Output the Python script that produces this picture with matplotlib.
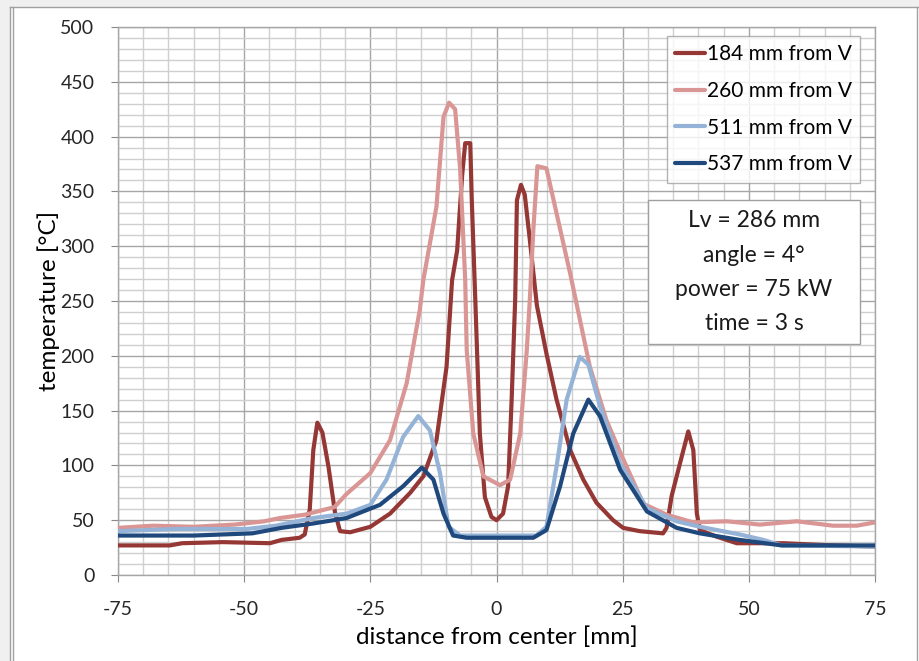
import matplotlib.pyplot as plt
from matplotlib.lines import Line2D
from matplotlib.patches import Rectangle

plt.rcParams['font.family'] = ['Lato', 'DejaVu Sans']
plt.rcParams['axes.unicode_minus'] = False

# 184 mm from V
x_184 = [-75, -64.7, -62.3, -54.2, -44.9, -42.6, -39, -38, -37, -36.3, -35.5, -34.5,
         -33.3, -32, -31, -29, -25, -21.1, -17.1, -14.5, -11.9, -9.9, -8.8, -7.8,
         -6.8, -6.2, -5.2, -4.9, -4.2, -3.3, -2.3, -1, 0, 1.3, 2.3, 3.0, 3.7, 4.05,
         4.85, 5.6, 6.6, 8.0, 9.9, 11.9, 14.6, 17.2, 19.8, 23.1, 25.1, 28.4, 33.0,
         33.7, 34.7, 36.7, 38.0, 39.0, 39.7, 40.3, 43.6, 47.6, 56.8, 66.7, 75]
y_184 = [27, 27, 29, 30, 29, 32, 34, 37, 60, 114, 139, 130,
         99, 57, 40, 39, 44, 56, 75, 90, 123, 190, 269, 296,
         365, 394, 394, 342, 251, 129, 71, 53, 50, 56, 81, 160, 251, 342,
         356, 347, 306, 246, 202, 160, 114, 87, 66, 50, 43, 40, 38,
         43, 72, 108, 131, 114, 56, 41, 35, 29, 29, 27, 26]

# 260 mm from V
x_260 = [-75, -68.1, -60, -51.9, -46, -42.9, -38, -32.1, -29.7, -25, -21.1, -17.8,
         -15.2, -14.5, -11.9, -10.5, -9.4, -8.2, -7.2, -6.2, -5.9, -4.6, -2.6, 0.7,
         2.7, 4.7, 6.0, 6.6, 7.3, 8.1, 9.9, 11.9, 14.6, 18.5, 21.8, 24.5, 29.1,
         33.7, 39, 45.6, 52.2, 59.5, 66.7, 71.4, 75]
y_260 = [43, 45, 44, 46, 49, 52, 55, 62, 74, 93, 123, 175,
         242, 269, 336, 418, 431, 425, 370, 269, 205, 129, 90, 82,
         87, 129, 205, 251, 315, 373, 371, 330, 275, 190, 141, 112, 65,
         55, 48, 49, 46, 49, 45, 45, 48]

# 511 mm from V
x_511 = [-75, -63.5, -49.5, -43.7, -36.3, -29.7, -25, -21.8, -18.5, -15.5, -13.2,
         -11.2, -9.5, -7.2, 7.9, 9.9, 11.9, 13.9, 16.5, 18.2, 20.5, 24.5, 29.8,
         35.7, 40.3, 48.2, 52.9, 56.5, 75]
y_511 = [40, 42, 42, 45, 52, 56, 64, 87, 126, 145, 132,
         93, 44, 36, 36, 44, 99, 160, 199, 192, 154, 102, 61,
         49, 44, 37, 32, 27, 26]

# 537 mm from V
x_537 = [-75, -60, -48.4, -42.6, -36.3, -29.7, -23.1, -18.5, -14.8, -12.5, -10.5,
         -8.6, -5.9, 7.3, 9.9, 12.6, 15.2, 18.2, 20.5, 24.5, 29.8, 35.7, 40.3,
         48.2, 56.5, 75]
y_537 = [36, 36, 38, 43, 47, 52, 64, 81, 98, 87, 56,
         36, 34, 34, 41, 81, 129, 160, 145, 96, 58, 43, 38,
         32, 27, 27]

labels = ['184 mm from V', '260 mm from V', '511 mm from V', '537 mm from V']
colors = ['#953735', '#D99694', '#95B3D7', '#1F497D']
info_lines = ['Lv = 286 mm', 'angle = 4°', 'power = 75 kW', 'time = 3 s']

fig = plt.figure(figsize=(9.19, 6.61), dpi=100)

# window frame of the screenshot
fig.patches.append(Rectangle((0, 0), 10 / 919, 1, transform=fig.transFigure,
                             facecolor='#f0f0f0', edgecolor='none', zorder=0))
for xf in (9.5 / 919, 12.5 / 919, 917 / 919):
    fig.add_artist(Line2D([xf, xf], [0, 1 - 7 / 661], transform=fig.transFigure,
                          color='#a0a0a0', lw=1))
fig.add_artist(Line2D([9.5 / 919, 1], [1 - 7 / 661, 1 - 7 / 661],
                      transform=fig.transFigure, color='#a0a0a0', lw=1))
fig.patches.append(Rectangle((0, 1 - 7 / 661), 1, 7 / 661, transform=fig.transFigure,
                             facecolor='#f0f0f0', edgecolor='none', zorder=0))

ax = fig.add_axes([118 / 919, 86 / 661, 757 / 919, 548 / 661])

for xs, ys, c, lab in zip([x_184, x_260, x_511, x_537], [y_184, y_260, y_511, y_537],
                          colors, labels):
    ax.plot(xs, ys, color=c, lw=3.0, label=lab, solid_joinstyle='round',
            solid_capstyle='round', zorder=3)

ax.set_xlim(-75, 75)
ax.set_ylim(0, 500)
ax.set_xticks(range(-75, 76, 25))
ax.set_yticks(range(0, 501, 50))
ax.set_xticks(range(-75, 76, 5), minor=True)
ax.set_yticks(range(0, 501, 10), minor=True)
ax.grid(which='major', color='#a6a6a6', lw=1.0, zorder=0)
ax.grid(which='minor', color='#cfcfcf', lw=1.0, zorder=0)
ax.set_axisbelow(True)

for s in ax.spines.values():
    s.set_color('#a6a6a6')
    s.set_linewidth(1.0)
ax.tick_params(which='major', length=5, color='#888888', labelsize=14,
               labelcolor='#262626')
ax.tick_params(which='minor', length=0)
ax.tick_params(axis='y', pad=12)
ax.tick_params(axis='x', pad=14)

ax.set_xlabel('distance from center [mm]', fontsize=17.5, labelpad=6)
ax.set_ylabel('temperature [°C]', fontsize=17.5, labelpad=0)

leg = ax.legend(loc='upper right', bbox_to_anchor=(860 / 919, 1 - 36 / 661),
                bbox_transform=fig.transFigure, fontsize=15, frameon=True,
                fancybox=False, handlelength=1.4, handletextpad=0.1,
                borderpad=0.4, labelspacing=0.8, borderaxespad=0)
leg.get_frame().set_edgecolor('#a0a0a0')
leg.get_frame().set_linewidth(1.0)

# info box
ax.add_patch(Rectangle((648 / 919, 1 - 344 / 661), 212 / 919, 144 / 661,
                       transform=fig.transFigure, facecolor='white',
                       edgecolor='#a0a0a0', lw=1.0, zorder=5))
for i, t in enumerate(info_lines):
    fig.text(754 / 919, 1 - (221 + 34 * i) / 661, t, ha='center', va='center',
             fontsize=16.5, color='#1a1a1a', zorder=6)

fig.savefig('out.png', dpi=100)
